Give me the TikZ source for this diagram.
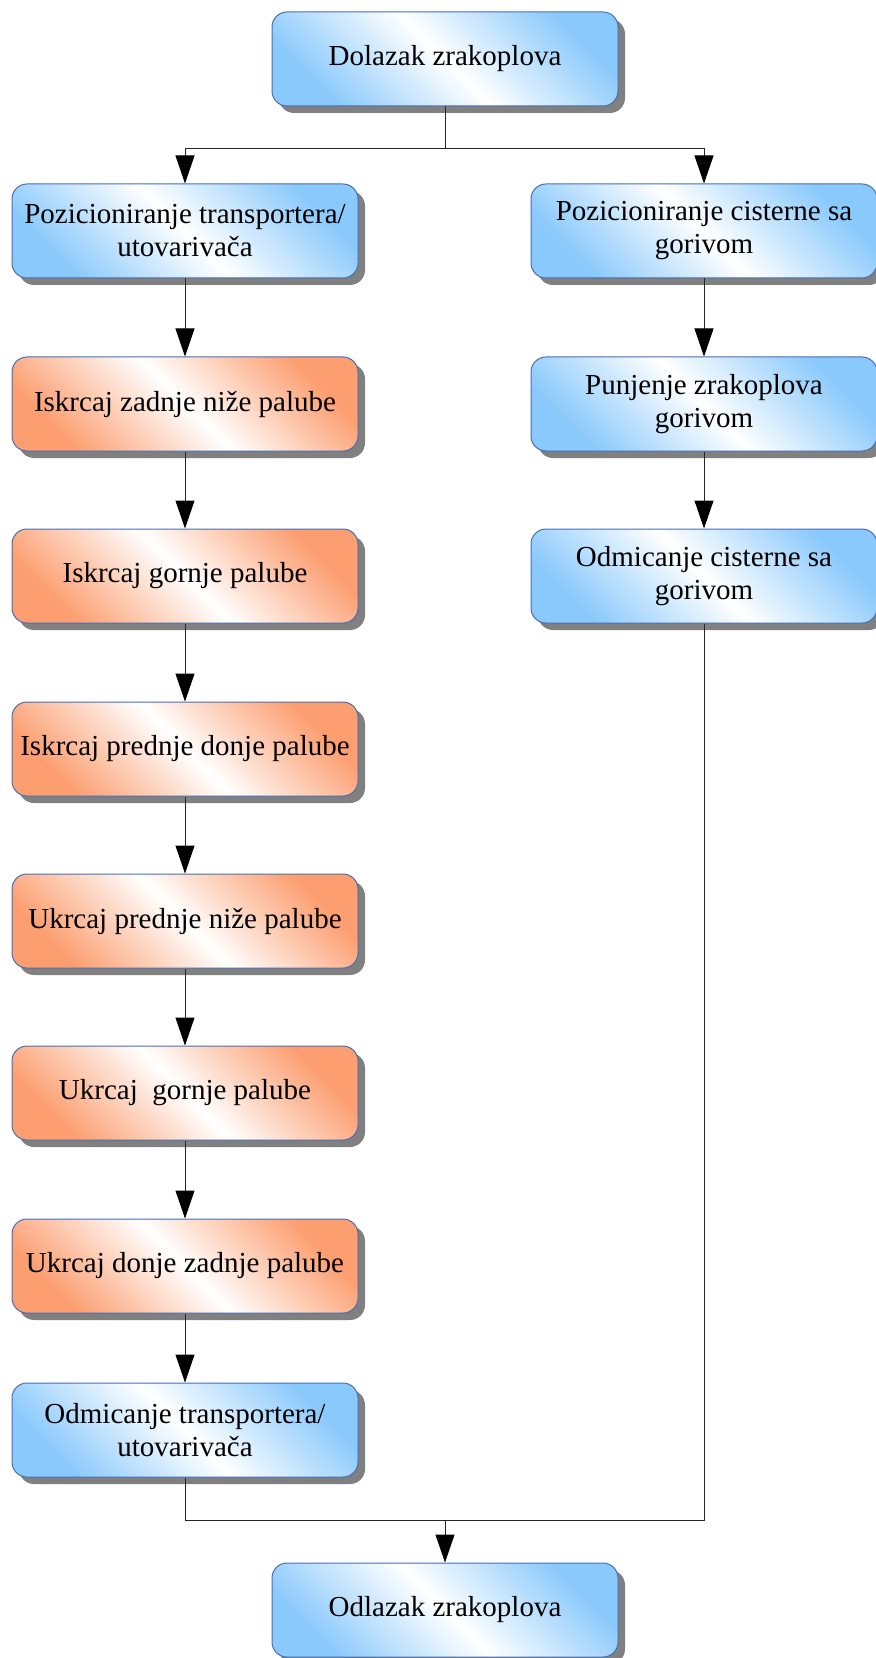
\documentclass[tikz,border=0pt]{standalone}
\usepackage{fontspec}
\setmainfont{Liberation Serif}
\usetikzlibrary{shadows,arrows.meta}
\definecolor{plava}{RGB}{138,201,252}
\definecolor{narancasta}{RGB}{252,158,112}
\definecolor{rub}{RGB}{72,110,180}
\tikzstyle{blok}=[rectangle, rounded corners=7.5pt, draw=rub, line width=.5pt, minimum width=173pt, minimum height=47pt, inner sep=1pt, align=center, font=\fontsize{14.5pt}{16.5pt}\selectfont, drop shadow={shadow xshift=3.5pt, shadow yshift=-3.5pt, fill=black!50, opacity=1}]
\tikzstyle{plavi}=[blok, top color=plava, bottom color=plava, middle color=white, shading angle=-45]
\tikzstyle{narancasti}=[blok, top color=narancasta, bottom color=narancasta, middle color=white, shading angle=-45]
\tikzstyle{veza}=[black!85, line width=.5pt]
\tikzstyle{strelica}=[veza, -{Triangle[width=9.5pt,length=14pt,color=black]}]

\begin{document}
\begin{tikzpicture}[x=.5pt, y=-.5pt]
    \useasboundingbox (0,0) rectangle (876,1658);

    \node[plavi] (dolazak) at (445,59) {Dolazak zrakoplova};

    % lijevi stupac
    \node[plavi] (pozTrans) at (185,231) {Pozicioniranje transportera/\\utovarivača};
    \node[narancasti] (iskZadnje) at (185,404) {Iskrcaj zadnje niže palube};
    \node[narancasti] (iskGornje) at (185,576) {Iskrcaj gornje palube};
    \node[narancasti] (iskPrednje) at (185,749) {Iskrcaj prednje donje palube};
    \node[narancasti] (ukrPrednje) at (185,921) {Ukrcaj prednje niže palube};
    \node[narancasti] (ukrGornje) at (185,1093) {Ukrcaj\ \ gornje palube};
    \node[narancasti] (ukrDonje) at (185,1266) {Ukrcaj donje zadnje palube};
    \node[plavi] (odmTrans) at (185,1430) {Odmicanje transportera/\\utovarivača};

    % desni stupac
    \node[plavi] (pozCist) at (704,231) {Pozicioniranje cisterne sa\\gorivom};
    \node[plavi] (punjenje) at (704,404) {Punjenje zrakoplova\\gorivom};
    \node[plavi] (odmCist) at (704,576) {Odmicanje cisterne sa\\gorivom};

    \node[plavi] (odlazak) at (445,1610) {Odlazak zrakoplova};

    \coordinate (grana) at (445,149);
    \coordinate (spoj) at (445,1520);

    \draw[veza] (dolazak) -- (grana);
    \draw[strelica] (grana) -| (pozTrans);
    \draw[strelica] (grana) -| (pozCist);

    \draw[strelica] (pozTrans) -- (iskZadnje);
    \draw[strelica] (iskZadnje) -- (iskGornje);
    \draw[strelica] (iskGornje) -- (iskPrednje);
    \draw[strelica] (iskPrednje) -- (ukrPrednje);
    \draw[strelica] (ukrPrednje) -- (ukrGornje);
    \draw[strelica] (ukrGornje) -- (ukrDonje);
    \draw[strelica] (ukrDonje) -- (odmTrans);

    \draw[strelica] (pozCist) -- (punjenje);
    \draw[strelica] (punjenje) -- (odmCist);

    \draw[veza] (odmTrans) |- (spoj);
    \draw[veza] (odmCist) |- (spoj);
    \draw[strelica] (spoj) -- (odlazak);
\end{tikzpicture}
\end{document}
